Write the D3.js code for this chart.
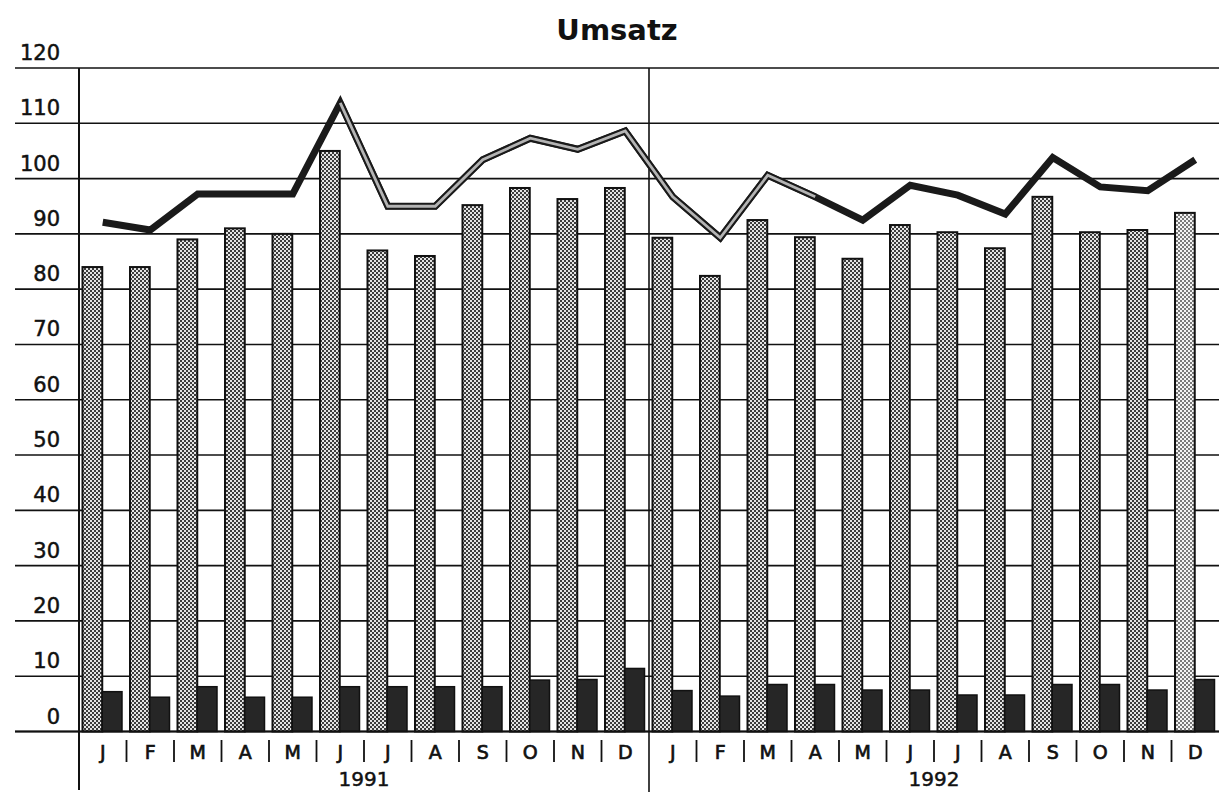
<!DOCTYPE html>
<html>
<head>
<meta charset="utf-8">
<script src="https://cdn.jsdelivr.net/npm/d3@7"></script>
<style>
  body { margin: 0; background: #fff; }
  text { font-family: "DejaVu Sans", sans-serif; fill: #111; }
</style>
</head>
<body>
<svg width="1219" height="792"></svg>
<script>
// data
const years  = ["1991", "1992"];
const months = ["J", "F", "M", "A", "M", "J", "J", "A", "S", "O", "N", "D"];
const umsatz = [84, 84, 89, 91, 90, 105, 87, 86, 95.2, 98.3, 96.3, 98.3,
                89.3, 82.4, 92.5, 89.4, 85.5, 91.6, 90.3, 87.4, 96.7, 90.3, 90.7, 93.8];
const kosten = [7.2, 6.2, 8.1, 6.2, 6.2, 8.1, 8.1, 8.1, 8.1, 9.3, 9.4, 11.4,
                7.4, 6.4, 8.5, 8.5, 7.5, 7.5, 6.6, 6.6, 8.5, 8.5, 7.5, 9.4];
const trend  = [92.1, 90.7, 97.2, 97.2, 97.2, 113.7, 95, 95, 103.4, 107.3, 105.3, 108.6,
                96.7, 89.3, 100.6, 96.7, 92.5, 98.8, 97, 93.6, 103.8, 98.5, 97.8, 103.4];
const yTicks = d3.range(0, 121, 10);

var svg = d3.select("svg"),
  margin = { top: 68, right: 0, bottom: 60, left: 79 },
  width  = +svg.attr("width"),
  height = +svg.attr("height");

const y0 = 731.5;

// x keys = one per month over both years
const keys = d3.range(years.length * months.length);

const xScale = d3.scaleBand()
  .domain(keys)
  .range([margin.left, width - margin.right]);

const bw = xScale.bandwidth();

const inner = d3.scaleBand()
  .domain(["umsatz", "kosten"])
  .range([3.5, bw - 4.5]);

const yScale = d3.scaleLinear()
  .domain([0, 120])
  .range([y0, margin.top]);

// dotted fill patterns
const defs = svg.append("defs");
function checker(id, dark, light) {
  const p = defs.append("pattern")
    .attr("id", id)
    .attr("width", 4).attr("height", 4)
    .attr("patternUnits", "userSpaceOnUse");
  p.append("rect").attr("width", 4).attr("height", 4).attr("fill", light);
  p.append("rect").attr("width", 2).attr("height", 2).attr("fill", dark);
  p.append("rect").attr("x", 2).attr("y", 2).attr("width", 2).attr("height", 2).attr("fill", dark);
}
checker("dots", "#3c3c3c", "#e4e4e4");
checker("dotsLight", "#7a7a7a", "#f4f4f4");

const g = svg.append("g");

// title
svg.append("text")
  .attr("x", 617).attr("y", 40)
  .attr("text-anchor", "middle")
  .attr("font-size", "29px")
  .attr("font-weight", "bold")
  .text("Umsatz");

//--- grid + y labels ----//
g.selectAll(".grid")
  .data(yTicks)
  .enter().append("line")
  .attr("class", "grid")
  .attr("x1", 15).attr("x2", width)
  .attr("y1", d => yScale(d)).attr("y2", d => yScale(d))
  .attr("stroke", "#111").attr("stroke-width", 1.6);

g.selectAll(".ylab")
  .data(yTicks)
  .enter().append("text")
  .attr("class", "ylab")
  .attr("x", 60)
  .attr("y", d => yScale(d) - 8)
  .attr("text-anchor", "end")
  .attr("font-size", "21px")
  .attr("stroke", "#111").attr("stroke-width", 0.5)
  .text(d => d);

// vertical lines: axis and year divider
g.append("line")
  .attr("x1", margin.left).attr("x2", margin.left)
  .attr("y1", margin.top).attr("y2", 790)
  .attr("stroke", "#111").attr("stroke-width", 2);

const mid = xScale(months.length);
g.append("line")
  .attr("x1", mid).attr("x2", mid)
  .attr("y1", margin.top).attr("y2", 792)
  .attr("stroke", "#111").attr("stroke-width", 1.6);

//--- Draw Bars ----//
g.selectAll(".bar-u")
  .data(keys)
  .enter().append("rect")
  .attr("class", "bar-u")
  .attr("x", i => xScale(i) + inner("umsatz"))
  .attr("y", i => yScale(umsatz[i]))
  .attr("width", inner.bandwidth())
  .attr("height", i => y0 - yScale(umsatz[i]))
  .attr("fill", i => i === keys.length - 1 ? "url(#dotsLight)" : "url(#dots)")
  .attr("stroke", "#111").attr("stroke-width", 2);

g.selectAll(".bar-k")
  .data(keys)
  .enter().append("rect")
  .attr("class", "bar-k")
  .attr("x", i => xScale(i) + inner("kosten"))
  .attr("y", i => yScale(kosten[i]))
  .attr("width", inner.bandwidth())
  .attr("height", i => y0 - yScale(kosten[i]))
  .attr("fill", "#262626")
  .attr("stroke", "#111").attr("stroke-width", 1.5);

// base line again on top of bars
g.append("line")
  .attr("x1", 15).attr("x2", width)
  .attr("y1", y0).attr("y2", y0)
  .attr("stroke", "#111").attr("stroke-width", 2);

//--- trend line ----//
const line = d3.line()
  .x(i => xScale(i) + bw / 2)
  .y(i => yScale(trend[i]));

g.append("path")
  .attr("d", line(keys))
  .attr("fill", "none")
  .attr("stroke", "#1a1a1a")
  .attr("stroke-width", 7)
  .attr("stroke-linejoin", "miter");

// hollow part from Jun 1991 to Apr 1992
const hollow = keys.slice(5, 16);
g.append("path")
  .attr("d", line(hollow))
  .attr("fill", "none")
  .attr("stroke", "#1a1a1a")
  .attr("stroke-width", 6.5);
g.append("path")
  .attr("d", line(hollow))
  .attr("fill", "none")
  .attr("stroke", "#b4b4b4")
  .attr("stroke-width", 2.8);

//--- x axis labels ----//
g.selectAll(".sep")
  .data(keys.filter(i => i % months.length !== 0))
  .enter().append("line")
  .attr("class", "sep")
  .attr("x1", i => xScale(i)).attr("x2", i => xScale(i))
  .attr("y1", 740).attr("y2", 762)
  .attr("stroke", "#111").attr("stroke-width", 1.8);

g.selectAll(".mlab")
  .data(keys)
  .enter().append("text")
  .attr("class", "mlab")
  .attr("x", i => xScale(i) + bw / 2)
  .attr("y", 759)
  .attr("text-anchor", "middle")
  .attr("font-size", "19px")
  .attr("stroke", "#111").attr("stroke-width", 0.7)
  .text(i => months[i % months.length]);

g.selectAll(".year")
  .data(years)
  .enter().append("text")
  .attr("class", "year")
  .attr("x", (d, j) => xScale(j * months.length) + bw * months.length / 2)
  .attr("y", 786)
  .attr("text-anchor", "middle")
  .attr("font-size", "20px")
  .attr("stroke", "#111").attr("stroke-width", 0.5)
  .text(d => d);
</script>
</body>
</html>
